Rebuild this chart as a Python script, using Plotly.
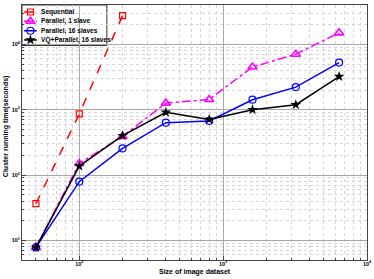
import plotly.graph_objects as go
import numpy as np

sizes = [50, 100, 200, 400, 800, 1600, 3200, 6400]
seq_sizes = [50, 100, 200]
sequential = [36.5, 860, 27600]
parallel_1 = [7.8, 150, 390, 1260, 1430, 4500, 7050, 15000]
parallel_16 = [7.8, 79, 255, 633, 673, 1420, 2215, 5250]
vq_parallel_16 = [7.8, 137, 400, 910, 710, 1000, 1190, 3210]

names = ["Sequential", "Parallel, 1 slave", "Parallel, 16 slaves", "VQ+Parallel, 16 slaves"]

x_ticks = [100, 1000, 10000]
x_ticktext = ["10<sup>2</sup>", "10<sup>3</sup>", "10<sup>4</sup>"]
y_ticks = [10, 100, 1000, 10000]
y_ticktext = ["10<sup>1</sup>", "10<sup>2</sup>", "10<sup>3</sup>", "10<sup>4</sup>"]

FONT = "Liberation Sans, Arial, Helvetica"

def minors(lo, hi):
    out = []
    for d in range(lo, hi):
        for m in range(2, 10):
            out.append(m * 10 ** d)
    return out

styles = [
    dict(line=dict(color="#ff0000", width=1.5, dash="dash"),
         marker=dict(symbol="square-open", size=6, color="#ff0000", line=dict(width=1.2))),
    dict(line=dict(color="#ff00ff", width=1.5, dash="dashdot"),
         marker=dict(symbol="triangle-up-open", size=8, color="#ff00ff", line=dict(width=1.6))),
    dict(line=dict(color="#0000ff", width=1.5),
         marker=dict(symbol="circle-open", size=7, color="#0000ff", line=dict(width=1.2))),
    dict(line=dict(color="#000000", width=1.5),
         marker=dict(symbol="star", size=8, color="#000000")),
]

fig = go.Figure()
series = [(seq_sizes, sequential), (sizes, parallel_1), (sizes, parallel_16), (sizes, vq_parallel_16)]
for (xs, ys), name, st in zip(series, names, styles):
    fig.add_trace(go.Scatter(x=xs, y=ys, name=name, mode="lines+markers", showlegend=False, **st))

# compact legend drawn on an overlay axis (fractions of the plot area)
leg_y = [0.9725, 0.936, 0.899, 0.863]
for name, st, ly in zip(names, styles, leg_y):
    fig.add_trace(go.Scatter(x=[0.006, 0.043], y=[ly, ly], mode="lines", line=st["line"],
                             xaxis="x2", yaxis="y2", showlegend=False, hoverinfo="skip"))
    fig.add_trace(go.Scatter(x=[0.0245], y=[ly], mode="markers", marker=st["marker"],
                             xaxis="x2", yaxis="y2", showlegend=False, hoverinfo="skip"))
    fig.add_annotation(x=0.049, y=ly, xref="paper", yref="paper", text=name, showarrow=False,
                       xanchor="left", yanchor="middle",
                       font=dict(family=FONT, size=6.6, color="black", weight="bold"))
fig.add_shape(type="rect", xref="paper", yref="paper", x0=0, x1=0.246, y0=0.841, y1=1,
              line=dict(color="#333333", width=1), fillcolor="white", layer="between")

axis_common = dict(type="log", showline=True, linecolor="#444444", linewidth=1, mirror=True,
                   ticks="inside", ticklen=4, tickcolor="#444444",
                   showgrid=True, gridcolor="#a8a8a8", gridwidth=1,
                   tickfont=dict(family=FONT, size=5.5, color="black", weight="bold"),
                   zeroline=False, automargin=False, tickmode="array")

fig.update_layout(
    xaxis=dict(**axis_common, range=[np.log10(40), 4],
               tickvals=x_ticks, ticktext=x_ticktext, ticklabelstandoff=-2,
               minor=dict(tickmode="array", tickvals=minors(1, 4), showgrid=True,
                          gridcolor="#d5d5d5", griddash="dot", ticks="inside", ticklen=2,
                          tickcolor="#444444")),
    yaxis=dict(**axis_common, range=[np.log10(5), np.log10(40000)],
               tickvals=y_ticks, ticktext=y_ticktext,
               minor=dict(tickmode="array", tickvals=minors(0, 5), showgrid=True,
                          gridcolor="#d5d5d5", griddash="dot", ticks="inside", ticklen=2,
                          tickcolor="#444444")),
    xaxis2=dict(overlaying="x", range=[0, 1], visible=False, anchor="y2"),
    yaxis2=dict(overlaying="y", range=[0, 1], visible=False, anchor="x2"),
)

fig.add_annotation(x=0.5, y=0, xref="paper", yref="paper", yshift=-12, text="Size of image dataset",
                   showarrow=False, xanchor="center", yanchor="middle",
                   font=dict(family=FONT, size=7, color="black", weight="bold"))
fig.add_annotation(x=0, y=0.525, xref="paper", yref="paper", xshift=-16,
                   text="Cluster running time(seconds)", textangle=-90,
                   showarrow=False, xanchor="center", yanchor="middle",
                   font=dict(family=FONT, size=7, color="black", weight="bold"))

fig.update_layout(width=374, height=279, autosize=False,
                  margin=dict(l=22, r=7, t=5, b=19),
                  paper_bgcolor="white", plot_bgcolor="white",
                  font=dict(family=FONT, size=7, color="black"),
                  showlegend=False)

fig.write_html("out.html", config={"displayModeBar": False},
               post_script="document.body.style.margin='0';document.body.style.padding='0';")
